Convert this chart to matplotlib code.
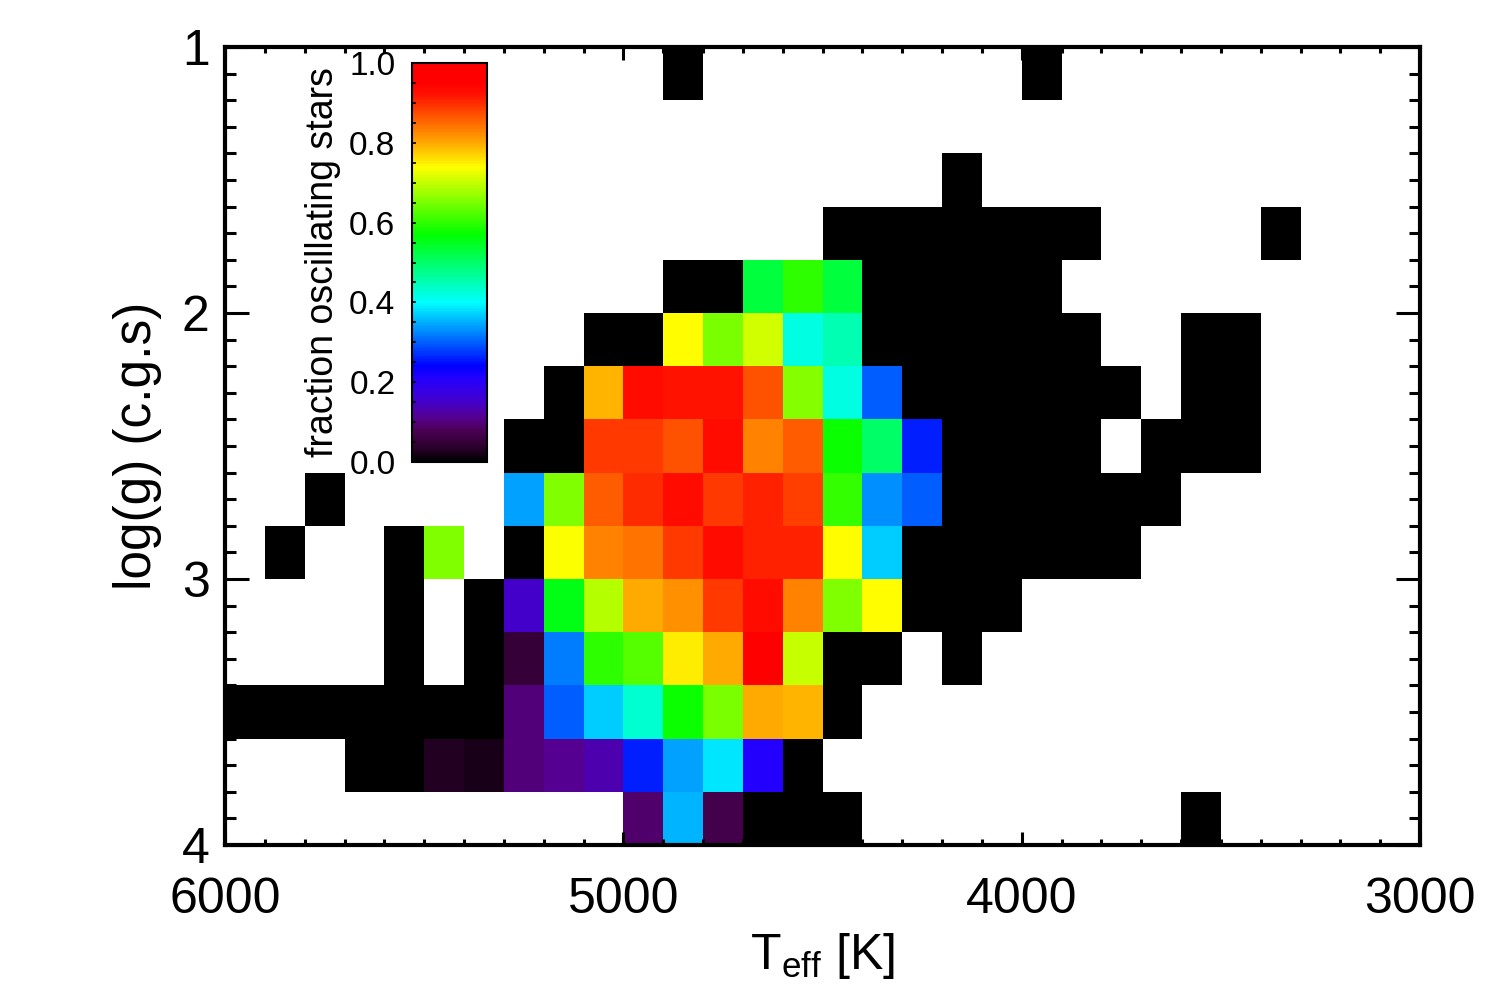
import numpy as np
import matplotlib
matplotlib.use("Agg")
import matplotlib.pyplot as plt
from matplotlib.colors import LinearSegmentedColormap
from matplotlib.ticker import MultipleLocator

plt.rcParams['font.family'] = ['Liberation Sans', 'DejaVu Sans']
plt.rcParams['mathtext.fontset'] = 'custom'
plt.rcParams['mathtext.rm'] = 'Liberation Sans'
plt.rcParams['mathtext.it'] = 'Liberation Sans'

# ---- data: bins (Teff, 100 K) x (log g, 0.2 dex); None = no stars ----
teff_edges = np.arange(6000, 2999, -100)
logg_edges = np.round(np.arange(1.0, 4.01, 0.2), 1)

_ = None
fraction = [
    [_,_,_,_,_, _,_,_,_,_, _,0,_,_,_, _,_,_,_,_, 0,_,_,_,_, _,_,_,_,_],
    [_,_,_,_,_, _,_,_,_,_, _,_,_,_,_, _,_,_,_,_, _,_,_,_,_, _,_,_,_,_],
    [_,_,_,_,_, _,_,_,_,_, _,_,_,_,_, _,_,_,0,_, _,_,_,_,_, _,_,_,_,_],
    [_,_,_,_,_, _,_,_,_,_, _,_,_,_,_, 0,0,0,0,0, 0,0,_,_,_, _,0,_,_,_],
    [_,_,_,_,_, _,_,_,_,_, _,0,0,.53,.60, .53,0,0,0,0, 0,_,_,_,_, _,_,_,_,_],
    [_,_,_,_,_, _,_,_,_,0, 0,.74,.65,.71,.42, .45,0,0,0,0, 0,0,_,_,0, 0,_,_,_,_],
    [_,_,_,_,_, _,_,_,0,.79, .93,.92,.92,.87,.66, .42,.30,0,0,0, 0,0,0,_,0, 0,_,_,_,_],
    [_,_,_,_,_, _,_,0,0,.89, .89,.87,.93,.83,.86, .575,.50,.26,0,0, 0,0,_,0,0, 0,_,_,_,_],
    [_,_,0,_,_, _,_,.34,.655,.86, .90,.93,.89,.91,.885, .605,.33,.30,0,0, 0,0,0,0,_, _,_,_,_,_],
    [_,0,_,_,0, .655,_,0,.735,.83, .84,.89,.93,.91,.91, .74,.37,0,0,0, 0,0,0,_,_, _,_,_,_,_],
    [_,_,_,_,0, _,0,.15,.555,.69, .80,.82,.89,.93,.83, .655,.74,0,0,0, _,_,_,_,_, _,_,_,_,_],
    [_,_,_,_,0, _,0,.05,.32,.60, .625,.75,.80,.96,.70, 0,0,_,0,_, _,_,_,_,_, _,_,_,_,_],
    [0,0,0,0,0, 0,0,.10,.30,.37, .43,.575,.65,.80,.79, 0,_,_,_,_, _,_,_,_,_, _,_,_,_,_],
    [_,_,_,0,0, .03,.02,.10,.11,.13, .26,.34,.385,.21,0, _,_,_,_,_, _,_,_,_,_, _,_,_,_,_],
    [_,_,_,_,_, _,_,_,_,_, .09,.355,.07,0,0, 0,_,_,_,_, _,_,_,_,0, _,_,_,_,_],
]

x_major = [6000, 5000, 4000, 3000]
y_major = [1, 2, 3, 4]
cbar_ticks = [0.0, 0.2, 0.4, 0.6, 0.8, 1.0]

# ---- colormap (IDL-like rainbow) ----
stops = [(0.00, '#000000'), (0.04, '#300030'), (0.08, '#4c0058'), (0.11, '#550090'),
         (0.15, '#4400cc'), (0.21, '#2200ff'), (0.24, '#0000ff'), (0.40, '#00ffff'),
         (0.57, '#00ff00'), (0.74, '#ffff00'), (0.80, '#ffaa00'), (0.92, '#ff1400'),
         (0.95, '#ff0000'), (1.00, '#ff0000')]
cmap = LinearSegmentedColormap.from_list('idl_rainbow', stops, N=256)

data = np.array([[np.nan if v is None else v for v in row] for row in fraction], dtype=float)
data = np.ma.masked_invalid(data)

fig = plt.figure(figsize=(15, 9.96), dpi=100)
ax = fig.add_axes([0.15, 0.1516, 0.7967, 0.8012])
mesh = ax.pcolormesh(teff_edges, logg_edges, data, cmap=cmap, vmin=0, vmax=1,
                     shading='flat', antialiased=False, linewidth=0)
ax.set_xlim(6000, 3000)
ax.set_ylim(4, 1)

ax.set_xticks(x_major)
ax.set_yticks(y_major)
ax.xaxis.set_minor_locator(MultipleLocator(100))
ax.yaxis.set_minor_locator(MultipleLocator(0.1))
ax.tick_params(which='both', direction='in', top=True, right=True, width=2.2, colors='black')
ax.tick_params(axis='x', which='major', length=9.5, pad=23, labelsize=36)
ax.tick_params(axis='x', which='minor', length=4)
ax.tick_params(axis='y', which='major', length=17, pad=11, labelsize=36)
ax.tick_params(axis='y', which='minor', length=8)
for s in ax.spines.values():
    s.set_linewidth(3)
    s.set_zorder(5)

ax.set_xlabel(r'T$_{\rm eff}$ [K]', fontsize=36, labelpad=6)
ax.set_ylabel('log(g) (c.g.s)', fontsize=37, labelpad=14)

# ---- colorbar ----
cax = fig.add_axes([0.2747, 0.5361, 0.05, 0.4006])
cb = fig.colorbar(mesh, cax=cax, orientation='vertical')
cb.outline.set_linewidth(1.5)
cax.yaxis.set_ticks_position('left')
cax.yaxis.set_label_position('left')
cb.set_ticks(cbar_ticks)
cb.set_ticklabels(['%.1f' % t for t in cbar_ticks])
cax.yaxis.set_minor_locator(MultipleLocator(0.05))
cax.tick_params(which='both', direction='in', length=3, width=1.2, labelsize=24, pad=12)
cb.set_label('fraction oscillating stars', fontsize=27, labelpad=6)

fig.savefig('out.png', dpi=100, facecolor='white')
